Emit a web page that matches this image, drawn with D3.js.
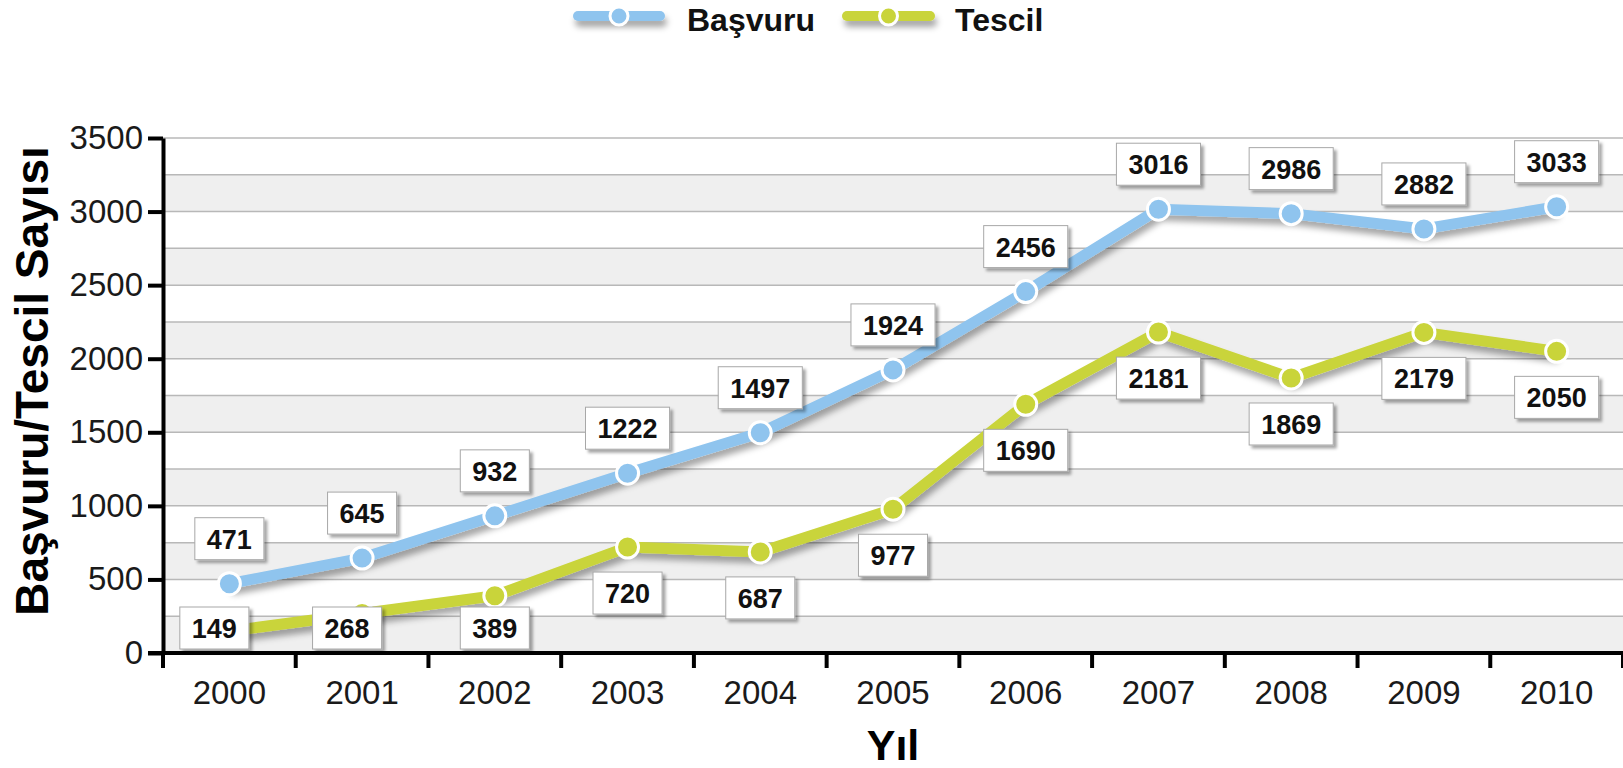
<!DOCTYPE html>
<html>
<head>
<meta charset="utf-8">
<script src="https://cdn.jsdelivr.net/npm/d3@7"></script>
<style>
  html, body { margin: 0; padding: 0; background: #fff; }
  svg text { font-family: "Liberation Sans", Arial, sans-serif; }
</style>
</head>
<body>
<div id="chart"></div>
<script>
// values
var years = ['2000', '2001', '2002', '2003', '2004', '2005', '2006', '2007', '2008', '2009', '2010'];
var basvuru = [471, 645, 932, 1222, 1497, 1924, 2456, 3016, 2986, 2882, 3033];
var tescil = [149, 268, 389, 720, 687, 977, 1690, 2181, 1869, 2179, 2050];
var yTicks = [0, 500, 1000, 1500, 2000, 2500, 3000, 3500];
var gridStep = 250;

var width = 1623, height = 768;
var plotLeft = 163, plotRight = 1623, plotTop = 138, plotBottom = 653;

var blue = '#8fc4ee', yellow = '#c9d43a';

var svg = d3.select('#chart').append('svg')
  .attr('width', width)
  .attr('height', height);

var defs = svg.append('defs');
// user space units so the flat legend lines keep their shadow too
var sh = defs.append('filter').attr('id', 'lineShadow')
  .attr('filterUnits', 'userSpaceOnUse')
  .attr('x', 0).attr('y', 0).attr('width', width).attr('height', height);
sh.append('feDropShadow').attr('dx', 2).attr('dy', 6).attr('stdDeviation', 3)
  .attr('flood-color', '#000').attr('flood-opacity', 0.35);
var bsh = defs.append('filter').attr('id', 'boxShadow')
  .attr('x', '-20%').attr('y', '-20%').attr('width', '150%').attr('height', '160%');
bsh.append('feDropShadow').attr('dx', 3).attr('dy', 3).attr('stdDeviation', 1.5)
  .attr('flood-color', '#000').attr('flood-opacity', 0.35);

var x = d3.scaleBand().domain(years).range([plotLeft, plotRight]).padding(0);
var y = d3.scaleLinear().domain([0, 3500]).range([plotBottom, plotTop]);
var cx = function(d, i) { return x(years[i]) + x.bandwidth() / 2; };

// alternating bands + grid lines
var gridVals = d3.range(0, 3500 + 1, gridStep);
svg.append('g').selectAll('rect')
  .data(gridVals.filter(function(v) { return v % 500 === 0 && v < 3500; }))
  .enter().append('rect')
  .attr('x', plotLeft).attr('width', plotRight - plotLeft)
  .attr('y', function(v) { return y(v + gridStep); })
  .attr('height', function(v) { return y(v) - y(v + gridStep); })
  .attr('fill', '#efefef');
svg.append('g').selectAll('line')
  .data(gridVals.filter(function(v) { return v > 0; }))
  .enter().append('line')
  .attr('x1', plotLeft).attr('x2', plotRight)
  .attr('y1', function(v) { return y(v); }).attr('y2', function(v) { return y(v); })
  .attr('stroke', '#b8b8b8').attr('stroke-width', 1.5);

// y axis
var yAxis = svg.append('g').attr('transform', 'translate(' + plotLeft + ',0)')
  .call(d3.axisLeft(y).tickValues(yTicks).tickFormat(d3.format('d'))
    .tickSize(15).tickSizeOuter(0).tickPadding(5));
yAxis.select('.domain').attr('stroke', '#000').attr('stroke-width', 4);
yAxis.selectAll('.tick line').attr('stroke', '#000').attr('stroke-width', 4);
yAxis.selectAll('.tick text').attr('font-size', 33).attr('fill', '#1a1a1a')
  .attr('font-family', '"Liberation Sans", Arial, sans-serif');

// x axis
var xAxis = svg.append('g').attr('transform', 'translate(0,' + plotBottom + ')')
  .call(d3.axisBottom(x).tickSize(0).tickPadding(28));
xAxis.select('.domain').remove();
xAxis.selectAll('.tick text').attr('font-size', 33).attr('fill', '#1a1a1a')
  .attr('font-family', '"Liberation Sans", Arial, sans-serif');
svg.append('line').attr('x1', plotLeft - 15).attr('x2', plotRight)
  .attr('y1', plotBottom).attr('y2', plotBottom)
  .attr('stroke', '#000').attr('stroke-width', 4);
svg.append('g').selectAll('line')
  .data(years.map(function(d) { return x(d); }).concat([x(years[years.length - 1]) + x.bandwidth()]))
  .enter().append('line')
  .attr('x1', function(d) { return d; }).attr('x2', function(d) { return d; })
  .attr('y1', plotBottom).attr('y2', plotBottom + 15)
  .attr('stroke', '#000').attr('stroke-width', 4);

// axis titles
svg.append('text').attr('x', (plotLeft + plotRight) / 2).attr('y', 760)
  .attr('text-anchor', 'middle').attr('font-size', 43).attr('font-weight', 'bold')
  .text('Yıl');
svg.append('text')
  .attr('transform', 'translate(48,381) rotate(-90)')
  .attr('text-anchor', 'middle').attr('font-size', 46).attr('font-weight', 'bold')
  .text('Başvuru/Tescil Sayısı');

// lines
var line = d3.line().x(cx).y(function(d) { return y(d); });
var series = [
  { name: 'Başvuru', values: basvuru, color: blue, above: true },
  { name: 'Tescil', values: tescil, color: yellow, above: false }
];

series.forEach(function(s) {
  svg.append('path').datum(s.values)
    .attr('d', line)
    .attr('fill', 'none')
    .attr('stroke', s.color)
    .attr('stroke-width', 11)
    .attr('stroke-linejoin', 'round')
    .attr('filter', 'url(#lineShadow)');
});
series.forEach(function(s) {
  svg.append('g').selectAll('circle').data(s.values).enter().append('circle')
    .attr('cx', cx).attr('cy', function(d) { return y(d); })
    .attr('r', 11)
    .attr('fill', s.color)
    .attr('stroke', '#fff').attr('stroke-width', 3);
});

// value labels (Tescil ones sit below the point but stay above the x axis)
series.forEach(function(s) {
  var g = svg.append('g').selectAll('g').data(s.values).enter().append('g')
    .attr('transform', function(d, i) {
      var ly = s.above ? y(d) - 45 : Math.min(y(d) + 46, plotBottom - 25);
      var lx = cx(d, i);
      if (!s.above && y(d) + 46 > plotBottom - 25 && ly - y(d) < 21) lx -= 15;
      return 'translate(' + lx + ',' + ly + ')';
    });
  var rects = g.append('rect')
    .attr('fill', '#fff').attr('stroke', '#a8a8a8').attr('stroke-width', 1)
    .attr('filter', 'url(#boxShadow)');
  var texts = g.append('text')
    .attr('text-anchor', 'middle').attr('y', 10)
    .attr('font-size', 27).attr('font-weight', 'bold').attr('fill', '#111')
    .text(function(d) { return d; });
  texts.each(function(d, i) {
    var w = this.getComputedTextLength() + 24;
    d3.select(rects.nodes()[i])
      .attr('x', -w / 2).attr('y', -21).attr('width', w).attr('height', 42);
  });
});

// legend
var legend = svg.append('g');
var legendItems = [
  { name: 'Başvuru', color: blue, x1: 578, x2: 660, tx: 687 },
  { name: 'Tescil', color: yellow, x1: 847, x2: 930, tx: 955 }
];
legendItems.forEach(function(d) {
  legend.append('line').attr('x1', d.x1).attr('x2', d.x2).attr('y1', 16).attr('y2', 16)
    .attr('stroke', d.color).attr('stroke-width', 10).attr('stroke-linecap', 'round')
    .attr('filter', 'url(#lineShadow)');
  legend.append('circle').attr('cx', (d.x1 + d.x2) / 2).attr('cy', 16).attr('r', 9)
    .attr('fill', d.color).attr('stroke', '#fff').attr('stroke-width', 3);
  legend.append('text').attr('x', d.tx).attr('y', 31)
    .attr('font-size', 32).attr('font-weight', 'bold').attr('fill', '#111')
    .text(d.name);
});
</script>
</body>
</html>
